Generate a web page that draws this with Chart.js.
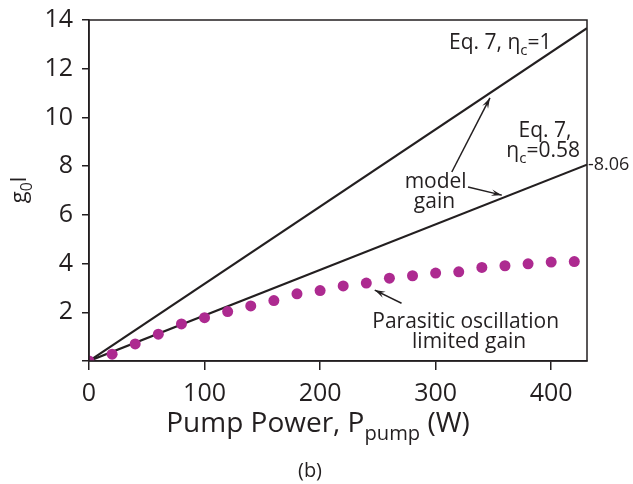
<!DOCTYPE html>
<html>
<head>
<meta charset="utf-8">
<script src="https://cdn.jsdelivr.net/npm/chart.js@4"></script>
<style>
html,body{margin:0;padding:0;background:#fff;}
#wrap{width:633px;height:484px;position:relative;}
</style>
</head>
<body>
<div id="wrap"><canvas id="c" width="633" height="484"></canvas></div>
<script>
// ---- data ----
const pumpPower = [0,20,40,60,80,100,120,140,160,180,200,220,240,260,280,300,320,340,360,380,400,420];
const parasiticGain = [0,0.28,0.7,1.1,1.52,1.78,2.03,2.26,2.48,2.76,2.89,3.08,3.2,3.4,3.5,3.61,3.66,3.84,3.91,3.99,4.06,4.08];
const lineX = [0,431];
const eqEta1 = [0,13.66];
const eqEta058 = [0,8.06];
const xTicks = [0,100,200,300,400];
const yTicks = [2,4,6,8,10,12,14];

const FONT = '"Open Sans", "Noto Sans", sans-serif';
const INK = '#231f20';

function pts(xs, ys){ return xs.map((x,i)=>({x:x,y:ys[i]})); }

const deco = {
  id:'deco',
  afterDraw(chart){
    const {ctx, chartArea:a, scales:{x,y}} = chart;
    const X = v=>x.getPixelForValue(v), Y = v=>y.getPixelForValue(v);
    ctx.save();
    // box
    ctx.strokeStyle = INK; ctx.lineWidth = 1.5;
    ctx.strokeRect(a.left, a.top, a.right-a.left, a.bottom-a.top);
    ctx.fillStyle = INK;
    ctx.textBaseline = 'alphabetic';
    function sub(parts, x0, yb, size, align){
      let w = 0;
      parts.forEach(p=>{ ctx.font = (p[1]?size*0.72:size)+'px '+FONT; w += ctx.measureText(p[0]).width; });
      let cx = align==='center' ? x0 - w/2 : (align==='right'? x0-w : x0);
      parts.forEach(p=>{
        ctx.font = (p[1]?size*0.72:size)+'px '+FONT;
        ctx.textAlign='left';
        ctx.fillText(p[0], cx, yb + (p[1]? size*0.28:0));
        cx += ctx.measureText(p[0]).width;
      });
    }
    // right annotation 8.06
    ctx.font = '18px '+FONT; ctx.textAlign='left'; ctx.textBaseline='middle';
    ctx.fillText('-8.06', a.right+1, Y(eqEta058[1]));
    ctx.textBaseline='alphabetic';
    // line labels
    const AF = 21;
    sub([['Eq. 7, η',false],['c',true],['=1',false]], X(356), Y(12.81), AF, 'center');
    sub([['Eq. 7,',false]], X(394.6), Y(9.19), AF, 'center');
    sub([['η',false],['c',true],['=0.58',false]], X(393), Y(8.37), AF, 'center');
    ctx.font = AF+'px '+FONT; ctx.textAlign='center';
    ctx.fillText('model', X(300), Y(7.1));
    ctx.fillText('gain', X(299), Y(6.28));
    ctx.fillText('Parasitic oscillation', X(326), Y(1.35));
    ctx.fillText('limited gain', X(329), Y(0.53));
    // arrows
    function arrow(x1,y1,x2,y2){
      ctx.beginPath(); ctx.moveTo(x1,y1); ctx.lineTo(x2,y2);
      ctx.lineWidth=1.5; ctx.strokeStyle=INK; ctx.stroke();
      const ang = Math.atan2(y2-y1,x2-x1), L=11, W=0.3;
      ctx.beginPath(); ctx.moveTo(x2,y2);
      ctx.lineTo(x2-L*Math.cos(ang-W), y2-L*Math.sin(ang-W));
      ctx.lineTo(x2-L*0.6*Math.cos(ang), y2-L*0.6*Math.sin(ang));
      ctx.lineTo(x2-L*Math.cos(ang+W), y2-L*Math.sin(ang+W));
      ctx.closePath(); ctx.fill();
    }
    arrow(X(314), Y(7.76), X(347), Y(10.8));
    arrow(X(328), Y(7.14), X(357.3), Y(6.81));
    arrow(X(270.5), Y(2.37), X(247.3), Y(2.91));
    // axis titles
    sub([['Pump Power, P',false],['pump',true],[' (W)',false]], 318, 432, 28, 'center');
    ctx.font='20px '+FONT; ctx.textAlign='center';
    ctx.fillText('(b)', 310, 477);
    ctx.save();
    ctx.translate(26, 190); ctx.rotate(-Math.PI/2);
    sub([['g',false],['0',true],['l',false]], 0, 0, 22, 'center');
    ctx.restore();
    ctx.restore();
  }
};

new Chart(document.getElementById('c'), {
  type:'scatter',
  data:{ datasets:[
    { data: pts(lineX, eqEta1), showLine:true, borderColor:INK, borderWidth:2.2, pointRadius:0, order:2 },
    { data: pts(lineX, eqEta058), showLine:true, borderColor:INK, borderWidth:2.2, pointRadius:0, order:2 },
    { data: pts(pumpPower, parasiticGain), showLine:false, pointRadius:5.5, pointBackgroundColor:'#ad2a90', pointBorderWidth:0, order:1 }
  ]},
  options:{
    responsive:false, animation:false,
    layout:{ padding:{ left:0, right:46, top:20, bottom:0 } },
    plugins:{ legend:{display:false}, tooltip:{enabled:false} },
    scales:{
      x:{ type:'linear', min:0, max:431,
        afterBuildTicks(s){ s.ticks = xTicks.map(v=>({value:v})); },
        afterFit(s){ s.height = 123; },
        border:{ display:true, color:INK, width:1.5 },
        grid:{ display:true, drawOnChartArea:false, drawTicks:true, tickLength:9, color:INK, lineWidth:1.5 },
        ticks:{ color:INK, font:{ size:25, family:FONT }, padding:9, maxRotation:0 }
      },
      y:{ type:'linear', min:0, max:14,
        afterBuildTicks(s){ s.ticks = [0].concat(yTicks).map(v=>({value:v})); },
        afterFit(s){ s.width = 89; s.paddingTop = 0; s.paddingBottom = 0; },
        border:{ display:true, color:INK, width:1.5 },
        grid:{ display:true, drawOnChartArea:false, drawTicks:true, tickLength:7, color:INK, lineWidth:1.5 },
        ticks:{ color:INK, font:{ size:25, family:FONT, lineHeight:0.9 }, padding:9, callback:(v)=> v===0 ? '' : String(v) }
      }
    }
  },
  plugins:[deco]
});
</script>
</body>
</html>
